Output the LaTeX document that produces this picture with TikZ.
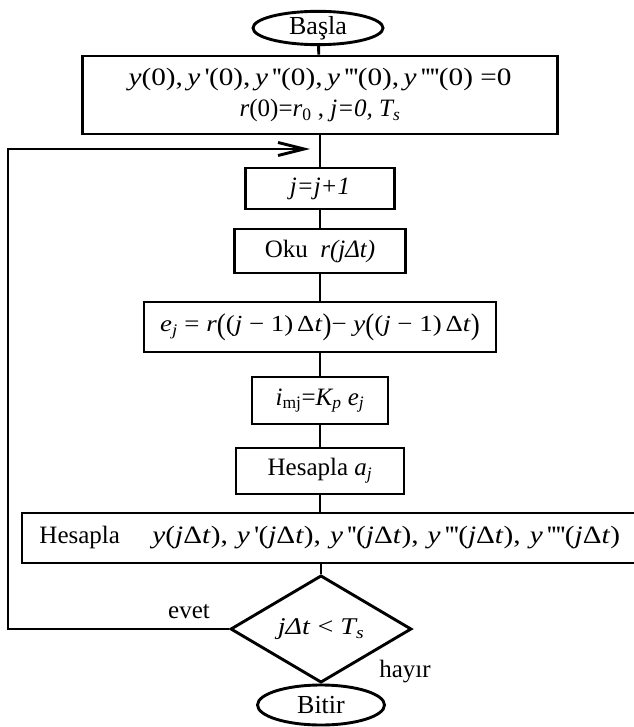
\documentclass[tikz,border=0pt]{standalone}
\usepackage{fontspec}
\usepackage{graphicx}
\setmainfont{Liberation Serif}
\newfontfamily\mfont{Liberation Serif}[FakeStretch=1.17]
\usetikzlibrary{shapes.geometric,arrows.meta}
\newcommand\ap{\textquotesingle}
\newcommand\sbs[1]{\textsubscript{#1}}
\newcommand\bigp[1]{\raisebox{-0.12em}{\scalebox{1}[1.3]{#1}}}
\newcommand\cm{,\hspace{0.18em}}
\newcommand\cmb{,\hspace{0.36em}}
\begin{document}
\begin{tikzpicture}[x=1pt,y=-1pt,line width=2.9pt,
  every node/.style={font=\fontsize{25}{28}\selectfont},
  boxst/.style={draw,rectangle,inner sep=0pt,align=center},
  ovalst/.style={draw,ellipse,inner sep=0pt},
  decst/.style={draw,diamond,inner sep=0pt},
  lbl/.style={inner sep=0pt}]
\useasboundingbox (0,0) rectangle (633,727);
\node[ovalst,minimum width=130pt,minimum height=33pt,font=\fontsize{26}{28}\selectfont] (start) at (318,28) {Başla};
\node[boxst,minimum width=475pt,minimum height=78pt] (init) at (320,95)
  {{\mfont\textit{y}(0)\cm\textit{y}\,\ap(0)\cm\textit{y}\,\ap\ap(0)\cm\textit{y}\,\ap\ap\ap(0)\cm\textit{y}\,\ap\ap\ap\ap(0) =0}\\[3pt]
   \textit{r}(0)=\textit{r}\sbs{0} , \textit{j=0, T\sbs{s}}};
\node[boxst,minimum width=149pt,minimum height=41pt] (jbox) at (320,188.5) {\textit{j=j+1}};
\node[boxst,minimum width=171pt,minimum height=44pt] (oku) at (320,251) {Oku \ \textit{r(jΔt)}};
\node[boxst,minimum width=352pt,minimum height=50pt,font=\fontsize{23}{26}\mfont] (ebox) at (320,327)
  {\textit{e}\sbs{\textit{j}} = \textit{r}\bigp{(}(\textit{j} − 1)\,Δ\textit{t}\bigp{)}− \textit{y}\bigp{(}(\textit{j} − 1)\,Δ\textit{t}\bigp{)}};
\node[boxst,minimum width=136pt,minimum height=47pt] (imj) at (320,400.5) {\textit{i}\sbs{mj}=\textit{K\sbs{p} e\sbs{j}}};
\node[boxst,minimum width=168pt,minimum height=46pt] (aj) at (320,471) {Hesapla \textit{a\sbs{j}}};
\node[boxst,minimum width=618pt,minimum height=50pt] (big) at (331,538) {};
\node[lbl,anchor=west] (bigtxt) at (38,538)
  {Hesapla\hspace{1.3em}{\mfont\textit{y}(\textit{j}Δ\textit{t})\cmb\textit{y}\,\ap(\textit{j}Δ\textit{t})\cmb\textit{y}\,\ap\ap(\textit{j}Δ\textit{t})\cmb\textit{y}\,\ap\ap\ap(\textit{j}Δ\textit{t})\cmb\textit{y}\,\ap\ap\ap\ap(\textit{j}Δ\textit{t})}};
\node[decst,minimum width=181pt,minimum height=88pt,font=\fontsize{24}{26}\mfont] (diam) at (321,629) {\textit{jΔt} < \textit{T\sbs{s}}};
\node[ovalst,minimum width=127pt,minimum height=40pt,font=\fontsize{26}{28}\selectfont] (stop) at (321,705) {Bitir};
\node[lbl] (evet) at (189,612) {evet};
\node[lbl] (hayir) at (405,672) {hayır};
\coordinate (lpbot) at (8,629);
\coordinate (lptop) at (8,149);
\coordinate (tip) at (310,149);
\draw (start) -- (init);
\draw (init) -- (jbox);
\draw (jbox) -- (oku);
\draw (oku) -- (ebox);
\draw (ebox) -- (imj);
\draw (imj) -- (aj);
\draw (aj.south) -- (aj.south |- big.north);
\draw (big.south -| diam.north) -- (diam.north);
\draw (diam) -- (stop);
\draw[-{Straight Barb[length=26pt,width=13pt]}] (diam.west) -- (lpbot) -- (lptop) -- (tip);
\end{tikzpicture}
\end{document}
